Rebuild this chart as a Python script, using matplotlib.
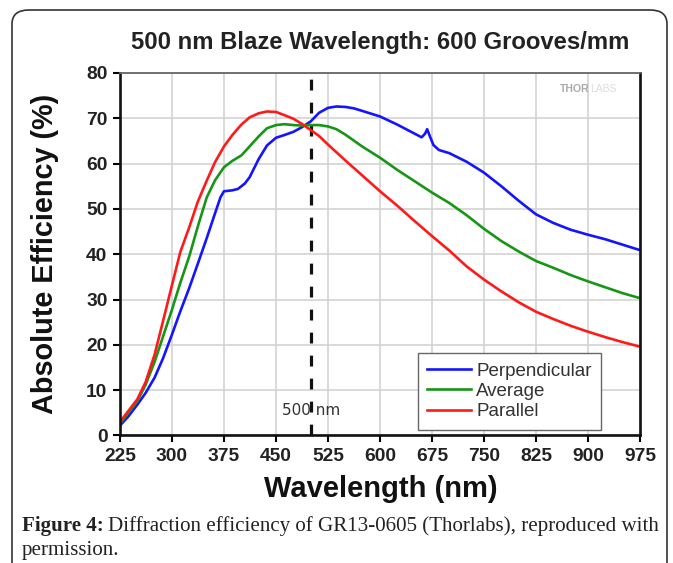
#!/usr/bin/env python
# Diffraction efficiency of a 600 g/mm grating blazed at 500 nm

import matplotlib
matplotlib.use("Agg")
import matplotlib.pyplot as plt
from matplotlib.patches import FancyBboxPatch

# values
wl_perp = [225, 237, 250, 262, 275, 287, 300, 312, 325, 337, 350, 362, 370, 375,
           387, 395, 405, 412, 425, 437, 450, 462, 475, 487, 500, 512, 525, 537,
           550, 562, 575, 600, 625, 650, 660, 665, 668, 672, 677, 685, 700, 725,
           750, 775, 800, 825, 850, 875, 900, 925, 950, 975]
eff_perp = [2.2, 4.2, 6.8, 9.4, 12.8, 17.0, 22.3, 27.4, 32.6, 37.8, 43.5, 49.0, 52.6, 53.9,
            54.1, 54.4, 55.6, 57.0, 61.0, 64.0, 65.7, 66.3, 67.0, 68.0, 69.3, 71.2, 72.3, 72.6,
            72.5, 72.2, 71.6, 70.4, 68.6, 66.6, 65.8, 66.6, 67.6, 66.0, 64.1, 63.0, 62.3, 60.4,
            58.0, 55.0, 51.8, 48.8, 46.9, 45.4, 44.3, 43.3, 42.1, 40.9]

wl_avg = [225, 237, 250, 262, 275, 287, 300, 312, 325, 337, 350, 362, 375, 387,
          400, 412, 425, 437, 450, 462, 475, 487, 500, 512, 525, 537, 550, 575,
          600, 625, 650, 675, 700, 725, 750, 775, 800, 825, 850, 875, 900, 925,
          950, 975]
eff_avg = [2.6, 5.0, 7.6, 11.2, 16.3, 21.8, 27.8, 33.7, 39.6, 46.0, 52.5, 56.3, 59.2, 60.6,
           61.8, 63.8, 66.0, 67.8, 68.5, 68.7, 68.5, 68.4, 68.5, 68.5, 68.2, 67.6, 66.4, 63.7,
           61.3, 58.6, 56.1, 53.6, 51.3, 48.6, 45.6, 42.9, 40.6, 38.5, 37.0, 35.4, 34.0, 32.7,
           31.4, 30.3]

wl_par = [225, 237, 250, 262, 275, 287, 300, 312, 325, 337, 350, 362, 375, 387,
          400, 412, 425, 437, 450, 462, 475, 487, 500, 512, 525, 550, 575, 600,
          625, 650, 675, 700, 725, 750, 775, 800, 825, 850, 875, 900, 925, 950, 975]
eff_par = [3.0, 5.4, 8.0, 11.8, 17.9, 25.2, 33.2, 40.5, 46.0, 51.5, 56.2, 60.3, 63.8, 66.3,
           68.6, 70.2, 71.1, 71.5, 71.4, 70.7, 69.9, 68.8, 67.4, 66.1, 64.2, 60.7, 57.3, 53.9,
           50.7, 47.3, 44.0, 40.8, 37.3, 34.4, 31.8, 29.4, 27.3, 25.7, 24.2, 22.9, 21.7, 20.6,
           19.6]

xticks = [225, 300, 375, 450, 525, 600, 675, 750, 825, 900, 975]
yticks = [0, 10, 20, 30, 40, 50, 60, 70, 80]
blaze = 500

plt.rcParams['font.family'] = ['Liberation Sans', 'DejaVu Sans']

fig = plt.figure(figsize=(6.73, 5.63), dpi=100)
ax = fig.add_axes([0.1783, 0.2265, 0.7727, 0.6439])

# rounded frame around the whole figure
frame = FancyBboxPatch((12 / 673, -0.1), 655 / 673, 1.1 - 10 / 563,
                       boxstyle="round,pad=0,rounding_size=0.025",
                       transform=fig.transFigure, fill=False,
                       edgecolor='#333333', linewidth=1.2, clip_on=False)
fig.patches.append(frame)

ax.plot(wl_perp, eff_perp, color='#1414ff', lw=1.9, label='Perpendicular')
ax.plot(wl_avg, eff_avg, color='#159615', lw=1.9, label='Average')
ax.plot(wl_par, eff_par, color='#ff1a1a', lw=1.9, label='Parallel')

ax.axvline(blaze, color='#111111', lw=2.3, linestyle=(0, (3.4, 3.8)), zorder=1)
ax.text(blaze, 5.6, '500 nm', family='DejaVu Sans', fontsize=11,
        color='#333333', ha='center', va='center')

ax.set_xlim(225, 975)
ax.set_ylim(0, 80)
ax.set_xticks(xticks)
ax.set_yticks(yticks)
ax.grid(True, color='#d0d0d0', lw=1.1)
ax.set_axisbelow(True)
ax.tick_params(direction='out', length=5, width=1.5, labelsize=13.8, pad=4)
for lab in ax.get_xticklabels() + ax.get_yticklabels():
    lab.set_fontweight('bold')
    lab.set_color('#222222')
for side in ['left', 'bottom', 'right']:
    ax.spines[side].set_linewidth(1.9)
    ax.spines[side].set_color('#111111')
ax.spines['top'].set_linewidth(1.3)
ax.spines['top'].set_color('#666666')

ax.text(0.846, 0.956, 'THOR', transform=ax.transAxes, fontsize=7.5,
        fontweight='bold', color='#aaaaaa', ha='left', va='center')
ax.text(0.905, 0.956, 'LABS', transform=ax.transAxes, fontsize=7.5,
        color='#dddddd', ha='left', va='center')

leg = ax.legend(loc='upper left', bbox_to_anchor=(418 / 673, 1 - 353 / 563),
                bbox_transform=fig.transFigure, fontsize=13.5, fancybox=False,
                framealpha=1, edgecolor='#666666', handlelength=2.3,
                labelspacing=0.18, borderpad=0.5, handletextpad=0.3,
                borderaxespad=0)
leg.get_frame().set_linewidth(1.0)
for t in leg.get_texts():
    t.set_color('#333333')

fig.text(380 / 673, 1 - 42 / 563, '500 nm Blaze Wavelength: 600 Grooves/mm',
         fontsize=17.2, fontweight='bold', color='#222222', ha='center', va='center')
fig.text(45 / 673, 1 - 254 / 563, 'Absolute Efficiency (%)', rotation=90,
         fontsize=20.8, fontweight='bold', color='#111111', ha='center', va='center')
fig.text(381 / 673, 1 - 489 / 563, 'Wavelength (nm)', fontsize=21,
         fontweight='bold', color='#111111', ha='center', va='center')

# caption below the chart; second part placed right after the bold label
cap_bold = fig.text(22 / 673, 1 - 526 / 563, 'Figure 4:', family='Liberation Serif',
                    fontsize=15.1, fontweight='bold', ha='left', va='center',
                    color='#222222')
fig.canvas.draw()
bb = cap_bold.get_window_extent()
fig.text((bb.x1 + 4) / 673, 1 - 526 / 563,
         'Diffraction efficiency of GR13-0605 (Thorlabs), reproduced with',
         family='Liberation Serif', fontsize=15.1, ha='left', va='center',
         color='#222222')
fig.text(22 / 673, 1 - 551 / 563, 'permission.', family='Liberation Serif',
         fontsize=15.1, ha='left', va='center', color='#222222')

fig.savefig('out.png', dpi=100)
